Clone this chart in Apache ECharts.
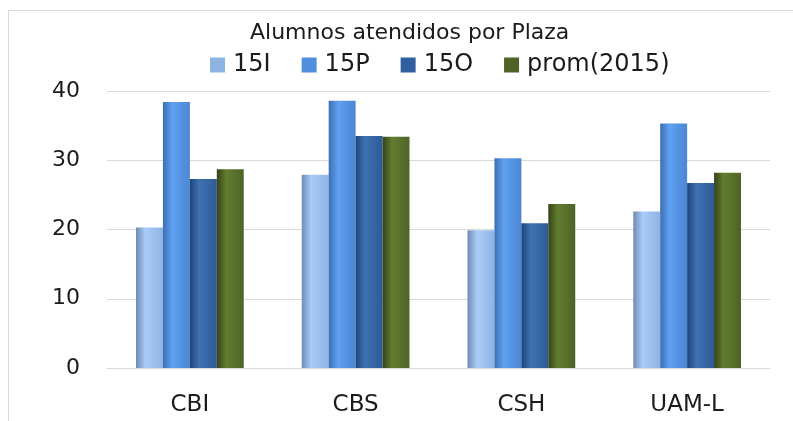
<!DOCTYPE html>
<html>
<head>
<meta charset="utf-8">
<script src="https://cdn.jsdelivr.net/npm/echarts@6/dist/echarts.min.js"></script>
<style>
html,body{margin:0;padding:0;background:#fff;}
#c{width:793px;height:421px;}
</style>
</head>
<body>
<div id="c"></div>
<script>
var categories = ['CBI', 'CBS', 'CSH', 'UAM-L'];
var s15I = [20.3, 27.9, 19.9, 22.6];
var s15P = [38.4, 38.6, 30.3, 35.3];
var s15O = [27.3, 33.5, 20.9, 26.7];
var sProm = [28.7, 33.4, 23.7, 28.2];
var seriesNames = ['15I', '15P', '15O', 'prom(2015)'];
var yTicks = [0, 10, 20, 30, 40];

var baseColors = ['#8db4e2', '#4f8fdd', '#2f5f9e', '#4f6228'];
var grads = [
  ['#6d8cb5', '#a9cbf7', '#8fb4e4'],
  ['#3b6fb5', '#5fa1f0', '#4a86d4'],
  ['#1e4479', '#3f72b3', '#2d5a95'],
  ['#34431a', '#627d30', '#4d6426']
];
function grad(g){
  return new echarts.graphic.LinearGradient(0,0,1,0,[
    {offset:0,color:g[0]},{offset:0.35,color:g[1]},{offset:1,color:g[2]}
  ]);
}
var datas = [s15I, s15P, s15O, sProm];
var FONT = 'DejaVu Sans';
var TXT = '#1b1b1b';
var chart = echarts.init(document.getElementById('c'));
chart.setOption({
  animation:false,
  backgroundColor:'#fff',
  title:{
    text:'Alumnos atendidos por Plaza',
    left:245, top:17,
    textStyle:{fontFamily:FONT,fontSize:22,fontWeight:'normal',color:TXT}
  },
  legend:{
    top:48, left:205,
    itemWidth:15, itemHeight:15, itemGap:31,
    textStyle:{fontFamily:FONT,fontSize:24,color:TXT,padding:[0,0,0,3]},
    data: seriesNames.map(function(n,i){return {name:n, icon:'rect', itemStyle:{color:baseColors[i]}};})
  },
  graphic:[{
    type:'rect', shape:{x:8.5,y:10.5,width:800,height:420},
    style:{fill:'none',stroke:'#d8d8d8',lineWidth:1}, silent:true
  }],
  grid:{left:107,right:23,top:91,bottom:53},
  xAxis:{
    type:'category', data:categories,
    axisLine:{lineStyle:{color:'#d9d9d9'}},
    axisTick:{show:false},
    axisLabel:{fontFamily:FONT,fontSize:23,color:TXT,margin:26}
  },
  yAxis:{
    type:'value', min:yTicks[0], max:yTicks[yTicks.length-1], interval:10,
    axisLine:{show:false}, axisTick:{show:false},
    splitLine:{lineStyle:{color:'#d9d9d9'}},
    axisLabel:{fontFamily:FONT,fontSize:22,color:TXT,margin:27}
  },
  series: datas.map(function(d,i){
    return {
      name:seriesNames[i], type:'bar', data:d,
      barGap:'0%', barCategoryGap:'35%',
      itemStyle:{color:grad(grads[i])}
    };
  })
});
</script>
</body>
</html>
